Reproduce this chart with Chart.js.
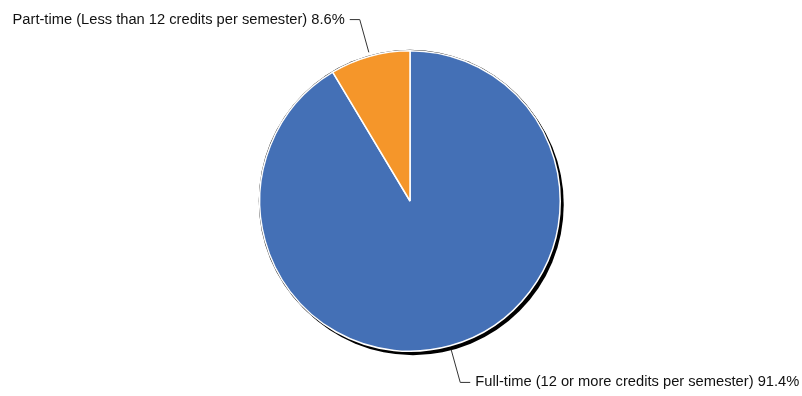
<!DOCTYPE html>
<html>
<head>
<meta charset="utf-8">
<script src="https://cdn.jsdelivr.net/npm/chart.js@4/dist/chart.umd.min.js"></script>
<style>
  html, body { margin: 0; padding: 0; background: #fff; }
  #wrap { width: 802px; height: 396px; }
</style>
</head>
<body>
<div id="wrap"><canvas id="studentChart"></canvas></div>
<script>
// ================================================================
// Enrollment status pie [START]
// ================================================================
const labels = [
  'Full-time (12 or more credits per semester)',
  'Part-time (Less than 12 credits per semester)',
];
const values = [91.4, 8.6];
const colors = ['#4470b6', '#f5962a'];

// black drop shadow behind the pie
const pieShadow = {
  id: 'pieShadow',
  beforeDatasetsDraw(chart) {
    const arc = chart.getDatasetMeta(0).data[0];
    const ctx = chart.ctx;
    ctx.save();
    ctx.fillStyle = '#000';
    ctx.beginPath();
    ctx.arc(arc.x + 3, arc.y + 3.5, arc.outerRadius + 0.5, 0, Math.PI * 2);
    ctx.fill();
    ctx.beginPath();
    ctx.arc(arc.x, arc.y, arc.outerRadius + 1, 0, Math.PI * 2);
    ctx.fill();
    ctx.restore();
  }
};

// labels with leader lines
const leaderLabels = {
  id: 'leaderLabels',
  afterDatasetsDraw(chart) {
    const ctx = chart.ctx;
    const meta = chart.getDatasetMeta(0);
    ctx.save();
    ctx.font = '14.7px "Liberation Sans", Arial, sans-serif';
    ctx.textBaseline = 'middle';
    ctx.strokeStyle = '#333';
    ctx.lineWidth = 1;
    ctx.fillStyle = '#111';
    meta.data.forEach((arc, i) => {
      const mid = (arc.startAngle + arc.endAngle) / 2;
      const r = arc.outerRadius;
      const x0 = arc.x + Math.cos(mid) * (r + 4);
      const y0 = arc.y + Math.sin(mid) * (r + 4);
      const x1 = arc.x + Math.cos(mid) * (r + 38);
      const y1 = arc.y + Math.sin(mid) * (r + 38);
      const dir = Math.cos(mid) >= 0 ? 1 : -1;
      const x2 = x1 + dir * 10;
      ctx.beginPath();
      ctx.moveTo(x0, y0);
      ctx.lineTo(x1, y1);
      ctx.lineTo(x2, y1);
      ctx.stroke();
      ctx.textAlign = dir > 0 ? 'left' : 'right';
      const text = labels[i] + ' ' + values[i].toFixed(1) + '%';
      ctx.fillText(text, x2 + dir * 5, y1);
    });
    ctx.restore();
  }
};

new Chart(document.getElementById('studentChart'), {
  type: 'pie',
  data: {
    labels: labels,
    datasets: [{
      data: values,
      backgroundColor: colors,
      borderColor: '#ffffff',
      borderWidth: 1.5
    }]
  },
  options: {
    responsive: true,
    maintainAspectRatio: false,
    animation: false,
    layout: { padding: { left: 18, right: 0, top: 50, bottom: 44 } },
    plugins: {
      legend: { display: false },
      tooltip: { enabled: false }
    }
  },
  plugins: [pieShadow, leaderLabels]
});
// ================================================================
// Enrollment status pie [END]
// ================================================================
</script>
</body>
</html>
